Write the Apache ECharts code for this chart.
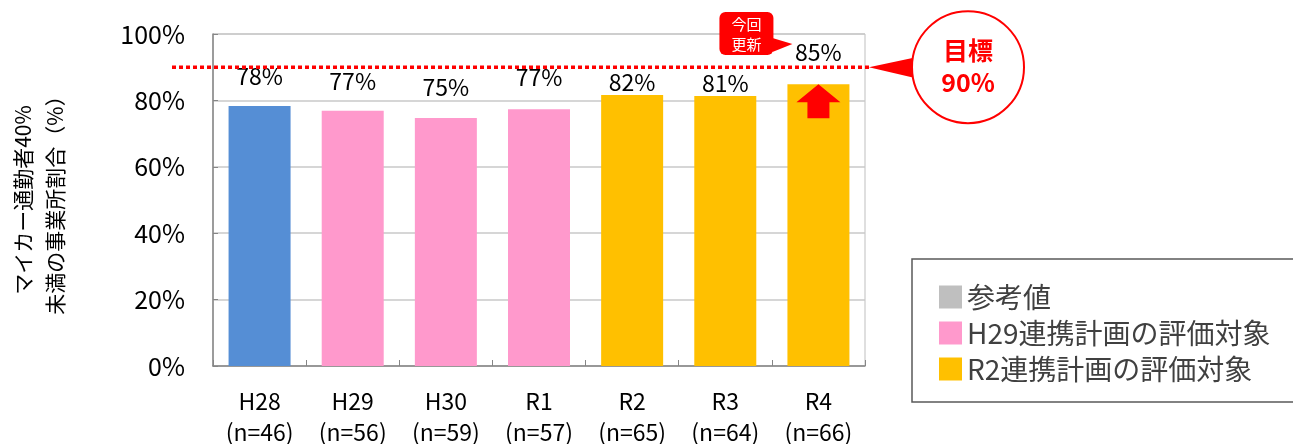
<!DOCTYPE html>
<html><head><meta charset="utf-8">
<script src="https://cdn.jsdelivr.net/npm/echarts@6/dist/echarts.min.js"></script>
<style>html,body{margin:0;padding:0;background:#fff}#c{width:1293px;height:444px}</style>
</head><body><div id="c"></div>
<script>
const categories = ['H28','H29','H30','R1','R2','R3','R4'];
const sampleSizes = [46,56,59,57,65,64,66];
const values = [78.3,76.9,74.7,77.3,81.6,81.3,84.9];
const groupOf = [0,1,1,1,2,2,2];
const groupNames = ['参考値','H29連携計画の評価対象','R2連携計画の評価対象'];
const targetValue = 90;
const yTicks = [0,20,40,60,80,100];
const labelGap = [18,18,19,21,1,1,20];

const groupColors = ['#bfbfbf','#ff99cc','#ffc000'];
const barColorOverride = {0:'#558ed5'};
const FONT = '"Noto Sans CJK JP","Noto Sans",sans-serif';

const chart = echarts.init(document.getElementById('c'));
const series = groupNames.map((name, g) => ({
  name, type: 'bar', barWidth: 62, barGap: '-100%',
  itemStyle: {color: groupColors[g]},
  data: values.map((v, i) => groupOf[i] === g ? {
    value: v,
    itemStyle: barColorOverride[i] ? {color: barColorOverride[i]} : undefined,
    label: {distance: labelGap[i]}
  } : '-'),
  label: {show: true, position: 'top', fontSize: 23, fontFamily: FONT, color: '#000',
    formatter: p => Math.round(p.value) + '%'}
}));

chart.setOption({
  animation: false,
  textStyle: {fontFamily: FONT},
  grid: {left: 213, right: 428, top: 34, bottom: 78, show: true, borderColor: '#bfbfbf', borderWidth: 1,
    containLabel: false, outerBoundsMode: 'none'},
  legend: {orient: 'vertical', left: 934, top: 278, itemWidth: 23, itemHeight: 23, itemGap: 8,
    icon: 'rect', textStyle: {fontSize: 28, color: '#404040', fontFamily: FONT, lineHeight: 26},
    data: groupNames},
  xAxis: {type: 'category', data: categories.map((c, i) => c + '\n(n=' + sampleSizes[i] + ')'),
    axisLine: {lineStyle: {color: '#868686', width: 1.5}},
    axisTick: {show: true, inside: true, length: 6, lineStyle: {color: '#868686'}},
    axisLabel: {fontSize: 23, color: '#000', lineHeight: 31, margin: 20, fontFamily: FONT}},
  yAxis: {type: 'value', min: yTicks[0], max: yTicks[yTicks.length-1], interval: yTicks[1]-yTicks[0],
    name: 'マイカー通勤者40%\n未満の事業所割合（%）', nameLocation: 'middle', nameRotate: 90, nameGap: 142,
    nameTextStyle: {fontSize: 21, color: '#000', lineHeight: 32, fontFamily: FONT},
    axisLine: {show: true, lineStyle: {color: '#868686', width: 1.5}},
    axisTick: {show: true, inside: true, length: 5, lineStyle: {color: '#868686'}},
    splitLine: {lineStyle: {color: '#c8c8c8', width: 1.5}},
    axisLabel: {fontSize: 25, color: '#000', margin: 28, formatter: '{value}%', fontFamily: FONT}},
  series
});

// annotations anchored to the axes via convertToPixel
const yT = chart.convertToPixel({yAxisIndex: 0}, targetValue);
const r4 = categories.length - 1;
const [r4x, r4top] = chart.convertToPixel({xAxisIndex: 0, yAxisIndex: 0}, [r4, values[r4]]);
const gridRight = chart.convertToPixel({xAxisIndex: 0}, r4) + 46.5;
const cx = 968, cy = yT, R = 56;

chart.setOption({
  graphic: [
    {type: 'rect', shape: {x: 912, y: 259, width: 400, height: 143}, style: {fill: 'none', stroke: '#595959', lineWidth: 1.5}, z: 1},
    {type: 'line', shape: {x1: 172, y1: yT, x2: gridRight + 5, y2: yT},
      style: {stroke: '#ff0000', lineWidth: 3.5, lineDash: [4, 3]}, z: 10},
    {type: 'polygon', shape: {points: [[gridRight + 4, yT], [cx - R + 4, yT - 10], [cx - R + 4, yT + 11]]}, style: {fill: '#ff0000'}, z: 10},
    {type: 'circle', shape: {cx, cy, r: R}, style: {fill: '#fff', stroke: '#ff0000', lineWidth: 2}, z: 11},
    {type: 'text', x: cx, y: cy - 17, z: 12, style: {text: '目標', font: 'bold 25px ' + FONT, fill: '#ff0000', align: 'center', verticalAlign: 'middle'}},
    {type: 'text', x: cx, y: cy + 15, z: 12, style: {text: targetValue + '%', font: 'bold 25px ' + FONT, fill: '#ff0000', align: 'center', verticalAlign: 'middle'}},
    // arrow in R4 bar
    {type: 'polygon', z: 10, shape: {points: [
      [r4x, r4top], [r4x + 22, r4top + 18], [r4x + 11, r4top + 18], [r4x + 11, r4top + 34],
      [r4x - 11, r4top + 34], [r4x - 11, r4top + 18], [r4x - 22, r4top + 18]]}, style: {fill: '#ff0000'}},
    // 今回更新 callout
    {type: 'rect', z: 10, shape: {x: r4x - 99, y: 12, width: 54, height: 43, r: 6}, style: {fill: '#ff0000'}},
    {type: 'polygon', z: 10, shape: {points: [[r4x - 46, 38], [r4x - 26, 44], [r4x - 46, 52]]}, style: {fill: '#ff0000'}},
    {type: 'text', z: 11, x: r4x - 72, y: 24, style: {text: '今回', font: '15px ' + FONT, fill: '#fff', align: 'center', verticalAlign: 'middle'}},
    {type: 'text', z: 11, x: r4x - 72, y: 44, style: {text: '更新', font: '15px ' + FONT, fill: '#fff', align: 'center', verticalAlign: 'middle'}}
  ]
});
</script></body></html>
